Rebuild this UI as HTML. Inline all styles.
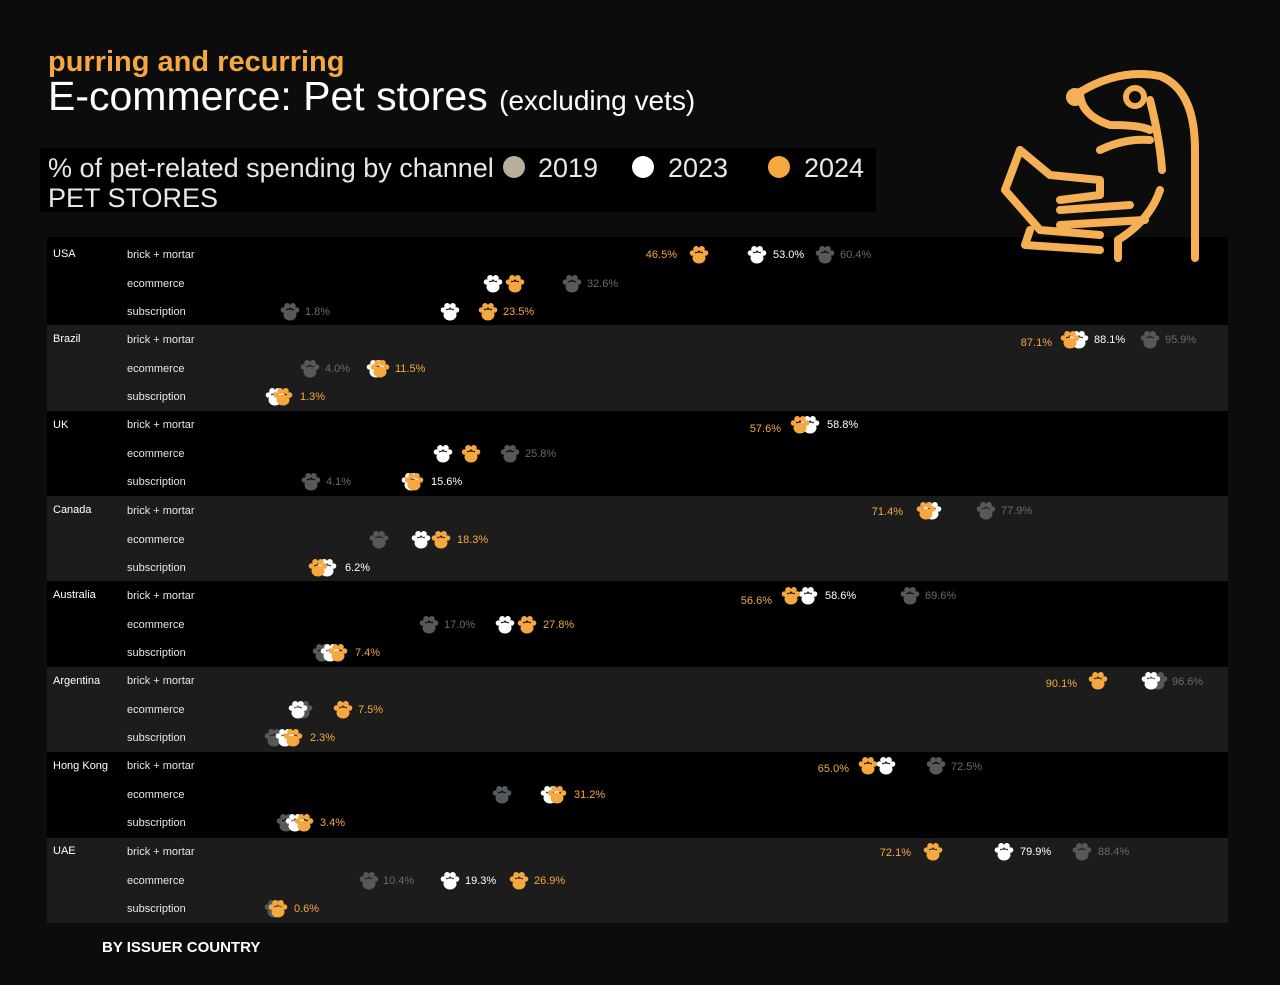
<!DOCTYPE html>
<html><head><meta charset="utf-8"><style>
html,body{margin:0;padding:0;background:#0c0c0c;}
svg{display:block;font-family:"Liberation Sans",sans-serif;}
.c{fill:#fff;font-size:11px}
.l{fill:#e6e6e6;font-size:11px}
.o{fill:#f5a83f;font-size:11px}
.w{fill:#fff;font-size:11px}
.g{fill:#6a6a6a;font-size:11px}
</style></head><body>
<svg width="1280" height="985" viewBox="0 0 1280 985">
<defs>
<g id="p"><ellipse cx="0" cy="3" rx="6.5" ry="5.5"/><circle cx="-6.5" cy="-2" r="2.8"/><circle cx="-2.8" cy="-6" r="3"/><circle cx="2.8" cy="-6" r="3"/><circle cx="6.5" cy="-2" r="2.8"/></g>
</defs>
<rect width="1280" height="985" fill="#0c0c0c"/>
<text x="48" y="71" fill="#f5a83f" font-size="29" font-weight="bold">purring and recurring</text>
<text x="48" y="110" fill="#fff" font-size="41">E-commerce: Pet stores <tspan font-size="28">(excluding vets)</tspan></text>
<rect x="40" y="148" width="836" height="64" fill="#000"/>
<text x="48" y="177" fill="#e8e8e8" font-size="27">% of pet-related spending by channel</text>
<circle cx="514" cy="167" r="11" fill="#b9ae9a"/><text x="538" y="177" fill="#e8e8e8" font-size="27">2019</text>
<circle cx="643" cy="167" r="11" fill="#fff"/><text x="668" y="177" fill="#e8e8e8" font-size="27">2023</text>
<circle cx="779" cy="167" r="11" fill="#f5a83f"/><text x="804" y="177" fill="#e8e8e8" font-size="27">2024</text>
<text x="48" y="207" fill="#e8e8e8" font-size="27">PET STORES</text>
<!-- bands -->
<rect x="47" y="237" width="1181" height="88" fill="#000"/>
<rect x="47" y="325" width="1181" height="86" fill="#1c1c1c"/>
<rect x="47" y="411" width="1181" height="85" fill="#000"/>
<rect x="47" y="496" width="1181" height="85" fill="#1c1c1c"/>
<rect x="47" y="581" width="1181" height="86" fill="#000"/>
<rect x="47" y="667" width="1181" height="85" fill="#1c1c1c"/>
<rect x="47" y="752" width="1181" height="86" fill="#000"/>
<rect x="47" y="838" width="1181" height="85" fill="#1c1c1c"/>
<!-- dog -->
<g fill="none" stroke="#f5b055" stroke-width="8" stroke-linecap="round" stroke-linejoin="round">
<path d="M1080 92 Q1120 68 1160 76 Q1195 90 1195 150 L1195 258"/>
<path d="M1080 92 Q1080 115 1110 125 Q1140 125 1150 130"/>
<path d="M1100 150 Q1125 138 1150 140"/>
<path d="M1150 100 Q1160 140 1162 170"/>
<path d="M1160 190 Q1150 220 1118 240"/>
<path d="M1020 150 L1005 190 L1040 230 L1100 235"/>
<path d="M1020 150 L1050 175 L1100 180 L1100 195 L1060 200"/>
<path d="M1060 210 L1130 205"/>
<path d="M1060 225 L1145 220"/>
<path d="M1030 230 L1025 245 L1100 250"/>
<path d="M1118 240 L1118 258"/>
</g>
<circle cx="1075" cy="97" r="9" fill="#f5b055"/>
<circle cx="1135" cy="97" r="9" fill="none" stroke="#f5b055" stroke-width="6"/>
<g>
<text class="c" x="53" y="257">USA</text><text class="c" x="53" y="342">Brazil</text><text class="c" x="53" y="428">UK</text><text class="c" x="53" y="513">Canada</text><text class="c" x="53" y="598">Australia</text><text class="c" x="53" y="684">Argentina</text><text class="c" x="53" y="769">Hong Kong</text><text class="c" x="53" y="854">UAE</text>
</g>
<g>
<text class="l" x="127" y="258">brick + mortar</text><text class="l" x="127" y="287">ecommerce</text><text class="l" x="127" y="315">subscription</text>
<text class="l" x="127" y="343">brick + mortar</text><text class="l" x="127" y="372">ecommerce</text><text class="l" x="127" y="400">subscription</text>
<text class="l" x="127" y="428">brick + mortar</text><text class="l" x="127" y="457">ecommerce</text><text class="l" x="127" y="485">subscription</text>
<text class="l" x="127" y="514">brick + mortar</text><text class="l" x="127" y="543">ecommerce</text><text class="l" x="127" y="571">subscription</text>
<text class="l" x="127" y="599">brick + mortar</text><text class="l" x="127" y="628">ecommerce</text><text class="l" x="127" y="656">subscription</text>
<text class="l" x="127" y="684">brick + mortar</text><text class="l" x="127" y="713">ecommerce</text><text class="l" x="127" y="741">subscription</text>
<text class="l" x="127" y="769">brick + mortar</text><text class="l" x="127" y="798">ecommerce</text><text class="l" x="127" y="826">subscription</text>
<text class="l" x="127" y="855">brick + mortar</text><text class="l" x="127" y="884">ecommerce</text><text class="l" x="127" y="912">subscription</text>
</g>
<g fill="#55595c">
<use href="#p" x="825" y="255"/><use href="#p" x="572" y="284"/><use href="#p" x="290" y="312"/>
<use href="#p" x="1150" y="340"/><use href="#p" x="310" y="369"/>
<use href="#p" x="510" y="454"/><use href="#p" x="311" y="482"/>
<use href="#p" x="986" y="511"/><use href="#p" x="379" y="540"/>
<use href="#p" x="910" y="596"/><use href="#p" x="429" y="625"/><use href="#p" x="322" y="653"/>
<use href="#p" x="1158" y="681"/><use href="#p" x="303" y="710"/><use href="#p" x="274" y="738"/>
<use href="#p" x="936" y="766"/><use href="#p" x="502" y="795"/><use href="#p" x="286" y="823"/>
<use href="#p" x="1082" y="852"/><use href="#p" x="369" y="881"/><use href="#p" x="274" y="909"/>
</g>
<g fill="#fff">
<use href="#p" x="757" y="255"/><use href="#p" x="493" y="284"/><use href="#p" x="450" y="312"/>
<use href="#p" x="1079" y="340"/><use href="#p" x="376" y="369"/><use href="#p" x="275" y="397"/>
<use href="#p" x="810" y="425"/><use href="#p" x="443" y="454"/><use href="#p" x="411" y="482"/>
<use href="#p" x="932" y="511"/><use href="#p" x="421" y="540"/><use href="#p" x="327" y="568"/>
<use href="#p" x="808" y="596"/><use href="#p" x="505" y="625"/><use href="#p" x="330" y="653"/>
<use href="#p" x="1151" y="681"/><use href="#p" x="298" y="710"/><use href="#p" x="285" y="738"/>
<use href="#p" x="886" y="766"/><use href="#p" x="550" y="795"/><use href="#p" x="295" y="823"/>
<use href="#p" x="1004" y="852"/><use href="#p" x="450" y="881"/>
</g>
<g fill="#f5a83f">
<use href="#p" x="699" y="255"/><use href="#p" x="515" y="284"/><use href="#p" x="488" y="312"/>
<use href="#p" x="1070" y="340"/><use href="#p" x="380" y="369"/><use href="#p" x="283" y="397"/>
<use href="#p" x="800" y="425"/><use href="#p" x="471" y="454"/><use href="#p" x="414" y="482"/>
<use href="#p" x="926" y="511"/><use href="#p" x="441" y="540"/><use href="#p" x="318" y="568"/>
<use href="#p" x="791" y="596"/><use href="#p" x="527" y="625"/><use href="#p" x="338" y="653"/>
<use href="#p" x="1098" y="681"/><use href="#p" x="343" y="710"/><use href="#p" x="293" y="738"/>
<use href="#p" x="868" y="766"/><use href="#p" x="557" y="795"/><use href="#p" x="304" y="823"/>
<use href="#p" x="933" y="852"/><use href="#p" x="519" y="881"/><use href="#p" x="278" y="909"/>
</g>
<text class="o" x="677" y="258" text-anchor="end">46.5%</text>
<text class="w" x="773" y="258">53.0%</text>
<text class="g" x="840" y="258">60.4%</text>
<text class="g" x="587" y="287">32.6%</text>
<text class="g" x="305" y="315">1.8%</text>
<text class="o" x="503" y="315">23.5%</text>
<text class="o" x="1052" y="346" text-anchor="end">87.1%</text>
<text class="w" x="1094" y="343">88.1%</text>
<text class="g" x="1165" y="343">95.9%</text>
<text class="g" x="325" y="372">4.0%</text>
<text class="o" x="395" y="372">11.5%</text>
<text class="o" x="300" y="400">1.3%</text>
<text class="o" x="781" y="432" text-anchor="end">57.6%</text>
<text class="w" x="827" y="428">58.8%</text>
<text class="g" x="525" y="457">25.8%</text>
<text class="g" x="326" y="485">4.1%</text>
<text class="w" x="431" y="485">15.6%</text>
<text class="o" x="903" y="515" text-anchor="end">71.4%</text>
<text class="g" x="1001" y="514">77.9%</text>
<text class="o" x="457" y="543">18.3%</text>
<text class="w" x="345" y="571">6.2%</text>
<text class="o" x="772" y="604" text-anchor="end">56.6%</text>
<text class="w" x="825" y="599">58.6%</text>
<text class="g" x="925" y="599">69.6%</text>
<text class="g" x="444" y="628">17.0%</text>
<text class="o" x="543" y="628">27.8%</text>
<text class="o" x="355" y="656">7.4%</text>
<text class="o" x="1077" y="687" text-anchor="end">90.1%</text>
<text class="g" x="1172" y="685">96.6%</text>
<text class="o" x="358" y="713">7.5%</text>
<text class="o" x="310" y="741">2.3%</text>
<text class="o" x="849" y="772" text-anchor="end">65.0%</text>
<text class="g" x="951" y="770">72.5%</text>
<text class="o" x="574" y="798">31.2%</text>
<text class="o" x="320" y="826">3.4%</text>
<text class="o" x="911" y="856" text-anchor="end">72.1%</text>
<text class="w" x="1020" y="855">79.9%</text>
<text class="g" x="1098" y="855">88.4%</text>
<text class="g" x="383" y="884">10.4%</text>
<text class="w" x="465" y="884">19.3%</text>
<text class="o" x="534" y="884">26.9%</text>
<text class="o" x="294" y="912">0.6%</text>
<text x="102" y="952" fill="#fff" font-size="15" font-weight="bold">BY ISSUER COUNTRY</text>
</svg>
</body></html>
